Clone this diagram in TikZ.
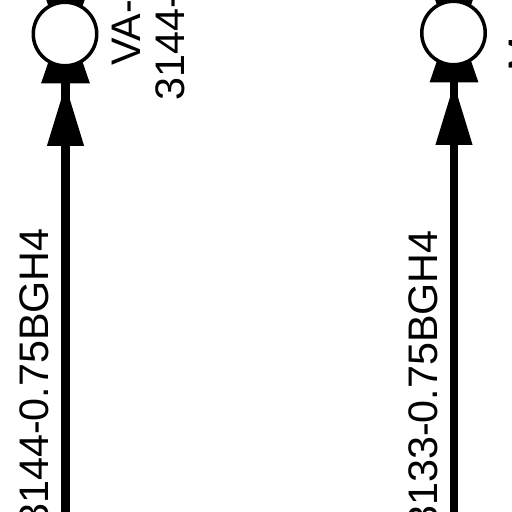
\documentclass[tikz,border=0pt]{standalone}
\usepackage{fontspec}
\setmainfont{Liberation Sans}
\usetikzlibrary{shapes.geometric, arrows.meta}
\tikzstyle{terminal} = [circle, minimum size=1.27cm, inner sep=0pt, line width=0.07cm, draw=black, fill=white]
\tikzstyle{capbox} = [trapezium, trapezium left angle=71, trapezium right angle=71, minimum width=0.98cm, minimum height=0.46cm, inner sep=1pt, fill=black]
\tikzstyle{wire} = [line width=0.175cm]
\tikzstyle{arrow} = [wire,-{Triangle[length=1.24cm,width=0.69cm]}]
\tikzstyle{wirelabel} = [rotate=90, inner sep=0pt, font=\fontsize{23.5}{28}\selectfont]

\begin{document}
\begin{tikzpicture}[x=0.02cm, y=-0.02cm]
    \useasboundingbox (0,0) rectangle (512,512);
    \node (capleft) [capbox] at (65.5,69) {};
    \node (captopleft) [capbox, rotate=180] at (65.5,-1) {};
    \node (termleft) [terminal] at (65,34) {};
    \node (capright) [capbox] at (454,68) {};
    \node (captopright) [capbox, rotate=180] at (454,-2) {};
    \node (termright) [terminal] at (453.5,33) {};
    \coordinate (wireleft) at (65.5,530);
    \coordinate (wireright) at (454,530);

    \draw [wire] (wireleft) -- (capleft.center);
    \draw [wire] (wireright) -- (capright.center);
    \draw [arrow] (wireleft) -- (capleft.south);
    \draw [arrow] (wireright) -- (capright.south);

    \node (labelleft) [wirelabel, anchor=base east] at (49,228) {3144-0.75BGH4};
    \node (labelright) [wirelabel, anchor=base east] at (438,230) {3133-0.75BGH4};
    \node (nameleft) [wirelabel, anchor=base west] at (141,66) {VA-};
    \node (codeleft) [wirelabel, anchor=base west] at (185,101) {3144-};
    \node (nameright) [wirelabel, anchor=base west] at (537.5,72) {M};
\end{tikzpicture}
\end{document}
